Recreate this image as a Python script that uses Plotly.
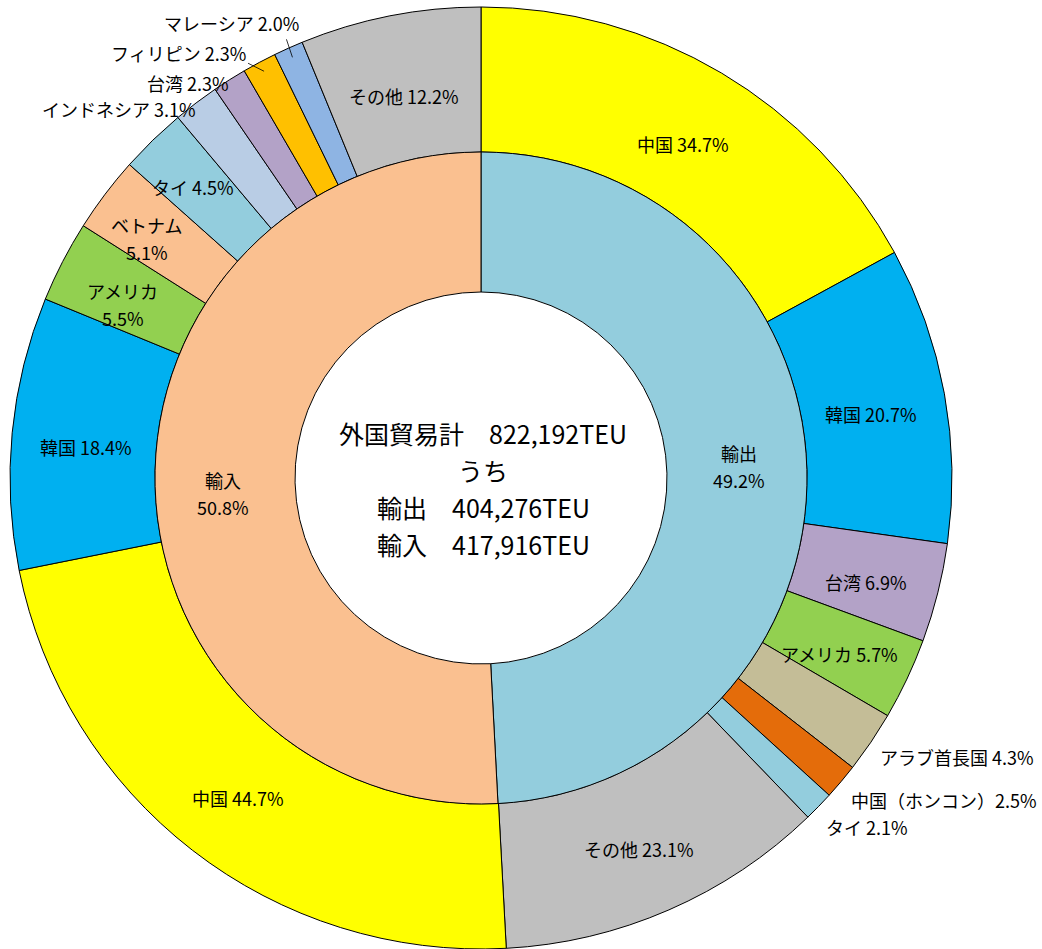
import math
import plotly.graph_objects as go

# ---------------- data ----------------
total_teu = 822192
group_names = ["輸出", "輸入"]
group_teu = [404276, 417916]
group_pct = [49.2, 50.8]

export_countries = ["中国", "韓国", "台湾", "アメリカ", "アラブ首長国", "中国（ホンコン）", "タイ", "その他"]
export_pct = [34.7, 20.7, 6.9, 5.7, 4.3, 2.5, 2.1, 23.1]

import_countries = ["中国", "韓国", "アメリカ", "ベトナム", "タイ", "インドネシア", "台湾", "フィリピン", "マレーシア", "その他"]
import_pct = [44.7, 18.4, 5.5, 5.1, 4.5, 3.1, 2.3, 2.3, 2.0, 12.2]

# ---------------- style ----------------
W, H = 1042, 949
CX, CY = 481, 478
R_OUT, R_MID, R_IN = 471, 326, 186
FONT = "Noto Sans CJK JP"
LBL = 18
LINE_GAP = 27

country_colors = {
    "中国": "#FFFF00", "韓国": "#00B0F0", "台湾": "#B3A2C7", "アメリカ": "#92D050",
    "アラブ首長国": "#C4BD97", "中国（ホンコン）": "#E46C0A", "タイ": "#93CDDD",
    "その他": "#BFBFBF", "ベトナム": "#FAC090", "インドネシア": "#B9CDE5",
    "フィリピン": "#FFC000", "マレーシア": "#8EB4E3",
}
group_colors = ["#93CDDD", "#FAC090"]

# outside labels: (side, dx, dy) offset of text edge from slice edge point (pixels)
outside_style = {
    ("輸出", "アラブ首長国"): ("left", 7, 15),
    ("輸出", "中国（ホンコン）"): ("left", 8, 18),
    ("輸出", "タイ"): ("left", 5, 21),
    ("輸入", "インドネシア"): ("right", 2, 6),
    ("輸入", "台湾"): ("right", 2, 3),
    ("輸入", "フィリピン"): ("right", -11, -9),
    ("輸入", "マレーシア"): ("right", 13, -25),
}
leader_style = {
    ("輸入", "フィリピン"): (-16, -8),
    ("輸入", "マレーシア"): (-6, -18),
}
two_line = {("輸入", "アメリカ"), ("輸入", "ベトナム")}
label_nudge = {
    ("輸入", "タイ"): (-12, -14),
    ("輸入", "ベトナム"): (-18, -8),
    ("輸入", "アメリカ"): (-6, 2),
}
inner_nudge = {"輸出": (0, -5), "輸入": (0, 9)}
no_space = {"中国（ホンコン）"}

# ---------------- derived values ----------------
outer_labels, outer_values, outer_colors, outer_keys, outer_pct = [], [], [], [], []
for g, teu, names, pcts in [("輸出", group_teu[0], export_countries, export_pct),
                            ("輸入", group_teu[1], import_countries, import_pct)]:
    for n, p in zip(names, pcts):
        outer_labels.append(f"{g}-{n}")
        outer_values.append(teu * p / 100.0)
        outer_colors.append(country_colors[n])
        outer_keys.append((g, n))
        outer_pct.append(p)


def px2paper(x, y):
    return x / W, 1 - y / H


def polar(angle_deg, r):
    a = math.radians(angle_deg)
    return CX + r * math.sin(a), CY - r * math.cos(a)


def mid_angles(values):
    tot = sum(values)
    out, cum = [], 0.0
    for v in values:
        span = v / tot * 360
        out.append(cum + span / 2)
        cum += span
    return out


def domain(r):
    return dict(x=[(CX - r) / W, (CX + r) / W], y=[max(0, (H - CY - r) / H), min(1, (H - CY + r) / H)])


def text_ann(px, py, text, size=LBL, xanchor="center"):
    x, y = px2paper(px, py)
    return dict(x=x, y=y, xref="paper", yref="paper", text=text, showarrow=False,
                xanchor=xanchor, yanchor="middle",
                font=dict(family=FONT, size=size, color="#000000"))


fig = go.Figure()
fig.add_trace(go.Pie(
    labels=outer_labels, values=outer_values, sort=False, direction="clockwise", rotation=0,
    hole=R_MID / R_OUT, domain=domain(R_OUT), textinfo="none", showlegend=False,
    marker=dict(colors=outer_colors, line=dict(color="#000000", width=1)),
))
fig.add_trace(go.Pie(
    labels=group_names, values=group_teu, sort=False, direction="clockwise", rotation=0,
    hole=R_IN / R_MID, domain=domain(R_MID), textinfo="none", showlegend=False,
    marker=dict(colors=group_colors, line=dict(color="#000000", width=1)),
))

annotations = []
shapes = []

# outer ring labels
r_lbl = (R_MID + R_OUT) / 2 - 2
for ang, key, p in zip(mid_angles(outer_values), outer_keys, outer_pct):
    g, n = key
    sep = "" if n in no_space else " "
    if key in outside_style:
        side, dx, dy = outside_style[key]
        ex, ey = polar(ang, R_OUT)
        annotations.append(text_ann(ex + dx, ey + dy, f"{n}{sep}{p:.1f}%", xanchor=side))
        if key in leader_style:
            lx, ly = leader_style[key]
            sx, sy = polar(ang, R_OUT - 10)
            x0, y0 = px2paper(sx, sy)
            x1, y1 = px2paper(sx + lx, sy + ly)
            shapes.append(dict(type="line", xref="paper", yref="paper", x0=x0, y0=y0, x1=x1, y1=y1,
                               line=dict(color="#000000", width=0.8)))
    else:
        px, py = polar(ang, r_lbl)
        nx, ny = label_nudge.get(key, (0, 0))
        px, py = px + nx, py + 7 + ny
        if key in two_line:
            annotations.append(text_ann(px, py - LINE_GAP / 2, n))
            annotations.append(text_ann(px, py + LINE_GAP / 2, f"{p:.1f}%"))
        else:
            annotations.append(text_ann(px, py, f"{n}{sep}{p:.1f}%"))

# inner ring labels
for ang, n, p in zip(mid_angles(group_teu), group_names, group_pct):
    px, py = polar(ang, 258)
    nx, ny = inner_nudge[n]
    px, py = px + nx, py + ny
    annotations.append(text_ann(px, py - LINE_GAP / 2, n))
    annotations.append(text_ann(px, py + LINE_GAP / 2, f"{p:.1f}%"))

# centre text
centre_lines = [
    f"外国貿易計　{total_teu:,}TEU",
    "うち",
    f"{group_names[0]}　{group_teu[0]:,}TEU",
    f"{group_names[1]}　{group_teu[1]:,}TEU",
]
for i, t in enumerate(centre_lines):
    annotations.append(text_ann(CX + 2, CY - 45 + 37 * i, t, size=25))

fig.update_layout(
    width=W, height=H, margin=dict(l=0, r=0, t=0, b=0),
    paper_bgcolor="white", plot_bgcolor="white",
    annotations=annotations, shapes=shapes,
    font=dict(family=FONT),
)
fig.write_html("out.html", config={"displayModeBar": False},
               post_script="document.body.style.margin='0';")
